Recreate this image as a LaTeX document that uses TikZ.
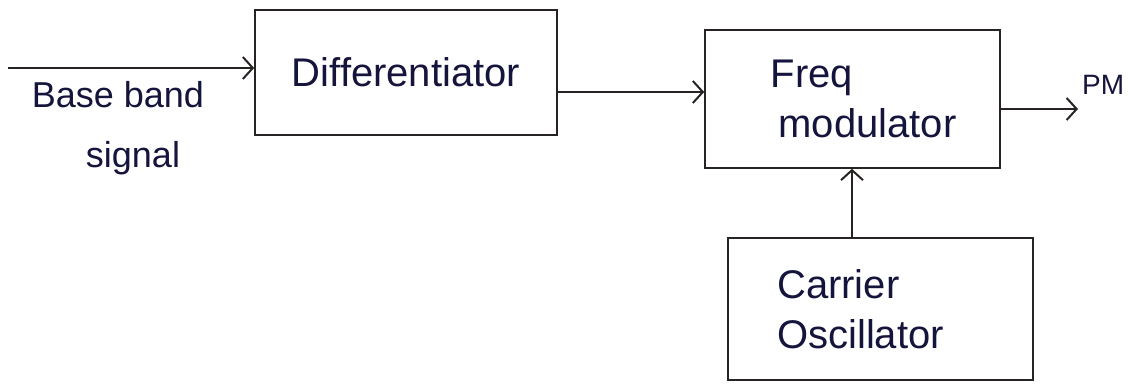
\documentclass[tikz,border=0pt]{standalone}
\usepackage{fontspec}
\setmainfont{Liberation Sans}
\usetikzlibrary{arrows.meta}
\definecolor{ink}{RGB}{20,20,60}
\definecolor{pen}{RGB}{40,35,35}
\begin{document}
\begin{tikzpicture}[x=1pt,y=-1pt,
  blk/.style={draw=pen,line width=1.6pt,inner sep=0pt,text=ink,font=\fontsize{40}{50}\selectfont},
  lbl/.style={text=ink,align=center,font=\fontsize{36}{60}\selectfont},
  conn/.style={draw=pen,line width=2pt,-{Straight Barb[length=10pt,width=22pt,line width=2pt]}}]
\useasboundingbox (0,0) rectangle (1128,385);
\node[blk,minimum width=302pt,minimum height=125pt,align=center] (diff) at (406,72.5) {Differentiator};
\node[blk,minimum width=295pt,minimum height=138pt,align=left] (fm) at (852.5,99) {\hspace*{-8pt}Freq\\modulator\hspace*{-30pt}};
\node[blk,minimum width=305pt,minimum height=142pt,align=left] (osc) at (880.5,309) {Carrier\\Oscillator\hspace*{40pt}};
\coordinate (in) at (8,68);
\coordinate (out) at (1078,109);
\draw[conn] (in) -- (in -| diff.west);
\draw[conn] (diff.east |- 0,92) -- (fm.west |- 0,92);
\draw[conn] (fm.east |- out) -- (out);
\draw[conn] (osc.north -| 852,0) -- (fm.south -| 852,0);
\node[lbl,anchor=north] (bb) at (118,78) {Base band\\\hspace*{30pt}signal};
\node[text=ink,font=\fontsize{28}{34}\selectfont,anchor=west,inner sep=0pt] (pm) at (1082,85) {PM};
\end{tikzpicture}
\end{document}
